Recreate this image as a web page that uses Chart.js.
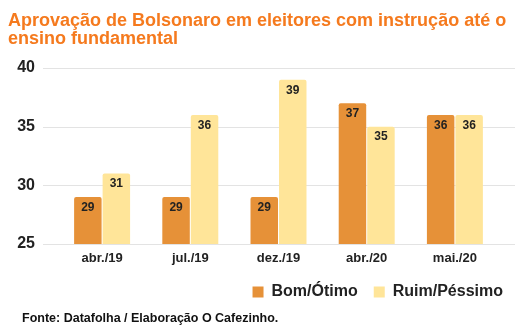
<!DOCTYPE html>
<html>
<head>
<meta charset="utf-8">
<script src="https://cdn.jsdelivr.net/npm/chart.js@4.4.1/dist/chart.umd.min.js"></script>
<style>
html,body{margin:0;padding:0;background:#fff;}
#wrap{position:relative;width:524px;height:329px;overflow:hidden;font-family:"Liberation Sans",Arial,sans-serif;}
#title{position:absolute;left:8px;top:11px;font-size:18px;font-weight:bold;line-height:18px;color:#F57A1E;white-space:nowrap;}
#source{position:absolute;left:22px;top:311px;font-size:12.5px;font-weight:bold;color:#111;white-space:nowrap;}
canvas{position:absolute;left:0;top:0;}
</style>
</head>
<body>
<div id="wrap">
<canvas id="c" width="524" height="329"></canvas>
<div id="title">Aprovação de Bolsonaro em eleitores com instrução até o<br>ensino fundamental</div>
<div id="source">Fonte: Datafolha / Elaboração O Cafezinho.</div>
</div>
<script>
const categories = ["abr./19", "jul./19", "dez./19", "abr./20", "mai./20"];
const bomOtimo = [29, 29, 29, 37, 36];
const ruimPessimo = [31, 36, 39, 35, 36];
const seriesNames = ["Bom/Ótimo", "Ruim/Péssimo"];
const yTicks = [25, 30, 35, 40];

const FONT = '"Liberation Sans", Arial, sans-serif';

const gridPlugin = {
  id: 'extGrid',
  beforeDatasetsDraw(chart) {
    const ctx = chart.ctx, y = chart.scales.y;
    ctx.save();
    ctx.strokeStyle = '#e3e3e3';
    ctx.lineWidth = 1;
    yTicks.forEach(v => {
      const py = Math.round(y.getPixelForValue(v)) + 0.5;
      ctx.beginPath(); ctx.moveTo(43, py); ctx.lineTo(515, py); ctx.stroke();
    });
    ctx.restore();
  }
};

const labelPlugin = {
  id: 'valLabels',
  afterDatasetsDraw(chart) {
    const ctx = chart.ctx;
    ctx.save();
    ctx.font = 'bold 12px ' + FONT;
    ctx.fillStyle = '#222';
    ctx.textAlign = 'center';
    ctx.textBaseline = 'middle';
    chart.data.datasets.forEach((ds, di) => {
      chart.getDatasetMeta(di).data.forEach((bar, i) => {
        ctx.fillText(String(ds.data[i]), bar.x, bar.y + 10.5);
      });
    });
    ctx.restore();
  }
};

new Chart(document.getElementById('c'), {
  type: 'bar',
  data: {
    labels: categories,
    datasets: [
      { label: seriesNames[0], data: bomOtimo, backgroundColor: '#E69138', borderRadius: 2, borderSkipped: 'bottom' },
      { label: seriesNames[1], data: ruimPessimo, backgroundColor: '#FFE599', borderRadius: 2, borderSkipped: 'bottom' }
    ]
  },
  options: {
    responsive: false,
    animation: false,
    devicePixelRatio: 1,
    layout: { padding: { top: 68, right: 5, bottom: 19, left: 0 } },
    datasets: { bar: { categoryPercentage: 0.646, barPercentage: 0.965 } },
    scales: {
      x: {
        afterFit(s) { s.height = 24; },
        grid: { display: false, drawTicks: false },
        border: { display: false },
        ticks: { font: { family: FONT, size: 13, weight: 'bold' }, color: '#222', padding: 7 }
      },
      y: {
        min: 25, max: 40,
        afterFit(s) { s.width = 58; },
        afterBuildTicks(s) { s.ticks = yTicks.map(v => ({ value: v })); },
        grid: { display: false, drawTicks: false },
        border: { display: false },
        ticks: { font: { family: FONT, size: 16, weight: 'bold' }, color: '#222', padding: 23 }
      },
      yR: {
        position: 'right',
        display: true,
        afterFit(s) { s.width = 20; },
        grid: { display: false },
        border: { display: false },
        ticks: { display: false }
      }
    },
    plugins: {
      legend: {
        position: 'bottom',
        align: 'end',
        labels: {
          boxWidth: 11, boxHeight: 11, padding: 16,
          color: '#222',
          font: { family: FONT, size: 16, weight: 'bold' }
        }
      },
      tooltip: { enabled: false },
      title: { display: false }
    }
  },
  plugins: [gridPlugin, labelPlugin]
});
</script>
</body>
</html>
